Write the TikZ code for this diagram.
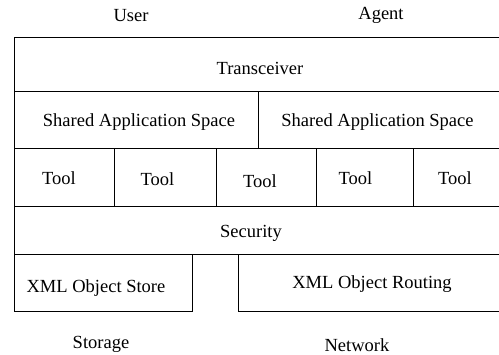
\documentclass[tikz,border=0pt]{standalone}
\usepackage{fontspec}
\setmainfont{Liberation Serif}
\begin{document}
\begin{tikzpicture}[x=1pt,y=-1pt,
  lbl/.style={anchor=base,inner sep=0pt,font=\fontsize{18.5}{20}\selectfont},
  frame/.style={line width=1pt,black}]
\useasboundingbox (0,0) rectangle (499,355);
\clip (0,0) rectangle (499,355);
% frame lines
\draw[frame] (14,38) -- (505,38);
\draw[frame] (14,92) -- (505,92);
\draw[frame] (14,149) -- (505,149);
\draw[frame] (14,207) -- (505,207);
\draw[frame] (14,255) -- (505,255);
\draw[frame] (14,38) -- (14,312) -- (192,312) -- (192,255);
\draw[frame] (238,255) -- (238,312) -- (505,312);
\draw[frame] (258,92) -- (258,149);
\draw[frame] (114,149) -- (114,207);
\draw[frame] (216,149) -- (216,207);
\draw[frame] (316,149) -- (316,207);
\draw[frame] (413,149) -- (413,207);
% labels
\node[lbl] (user) at (131,21.5) {User};
\node[lbl] (agent) at (381,20) {Agent};
\node[lbl] (trans) at (260,75) {Transceiver};
\node[lbl] (sas1) at (139,126.5) {Shared Application Space};
\node[lbl] (sas2) at (377.5,126.5) {Shared Application Space};
\node[lbl] (t1) at (59,185) {Tool};
\node[lbl] (t2) at (157.5,186) {Tool};
\node[lbl] (t3) at (260,187.3) {Tool};
\node[lbl] (t4) at (355.5,184.3) {Tool};
\node[lbl] (t5) at (455,185) {Tool};
\node[lbl] (sec) at (251,237.3) {Security};
\node[lbl] (store) at (96,292.7) {XML Object Store};
\node[lbl] (route) at (372,288.3) {XML Object Routing};
\node[lbl] (storage) at (101,349) {Storage};
\node[lbl] (network) at (357,352) {Network};
\end{tikzpicture}
\end{document}
